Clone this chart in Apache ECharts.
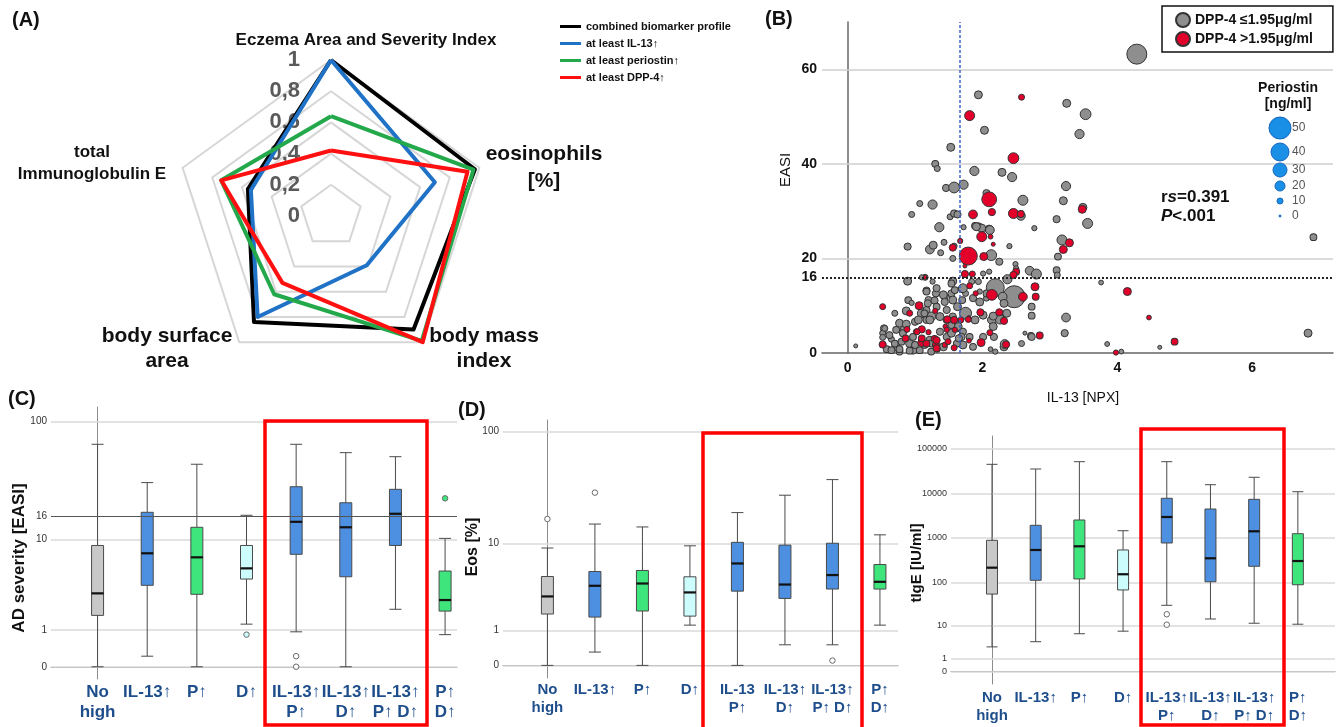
<!DOCTYPE html>
<html>
<head>
<meta charset="utf-8">
<script src="https://cdn.jsdelivr.net/npm/echarts@6/dist/echarts.min.js"></script>
<style>
  html, body { margin: 0; padding: 0; background: #fff; }
  #main { width: 1338px; height: 727px; }
</style>
</head>
<body>
<div id="main"></div>
<script>
const FONT = 'Liberation Sans, Arial, sans-serif';

// ---- (A) radar ----
const radarAxes = ['Eczema Area and Severity Index', 'total Immunoglobulin E', 'body surface area', 'body mass index', 'eosinophils [%]'];
const radarNames = ['combined biomarker profile', 'at least IL-13↑', 'at least periostin↑', 'at least DPP-4↑'];
const radarCombined = [1.0, 0.56, 0.84, 0.90, 0.97];
const radarIL13 = [1.0, 0.54, 0.80, 0.39, 0.70];
const radarPeriostin = [0.64, 0.74, 0.62, 0.99, 0.96];
const radarDPP4 = [0.42, 0.74, 0.53, 1.0, 0.92];

// ---- (B) scatter : [IL-13 NPX, EASI, periostin ng/ml] ----
const lowName = 'DPP-4 ≤1.95μg/ml';
const highName = 'DPP-4 >1.95μg/ml';
const scatterLow = [
  [4.29,63.2,45],[3.25,52.8,15],[3.53,50.5,22],[3.44,46.3,18],[3.24,35.3,18],[3.20,32.2,15],[3.49,30.8,15],
  [3.56,27.4,20],[3.18,23.9,20],[6.91,24.5,12],[3.76,14.9,7],[3.24,7.5,17],[3.22,4.2,13],[6.83,4.2,15],
  [3.85,1.9,7],[4.63,1.2,5],[4.06,0.3,7],
  [1.94,54.6,15],[2.03,47.1,15],[1.53,43.5,15],[1.30,40.0,12],[1.33,39.0,10],[1.88,38.5,18],[2.29,38.2,15],
  [2.44,37.2,18],[1.46,34.9,13],[1.58,35.0,22],[1.72,35.6,18],[2.06,33.8,13],[2.60,32.3,20],[1.07,31.6,10],
  [1.26,31.4,18],[0.95,29.3,10],[1.52,28.8,10],[1.58,29.5,12],[1.63,29.3,13],[2.57,29.0,17],[3.10,28.3,13],
  [1.36,26.6,18],[1.72,26.6,8],[1.89,26.9,12],[1.94,26.7,15],[2.10,26.2,15],[2.77,26.4,8],
  [1.99,26.4,15],[2.11,26.0,17],[2.40,22.6,8],[0.89,22.5,13],[1.22,21.9,17],[1.27,22.8,15],[1.43,23.4,10],
  [1.38,21.2,10],[1.56,20.0,10],[2.13,20.7,22],[2.25,19.3,13],[2.49,18.8,8],[2.50,17.9,8],[2.70,17.4,17],
  [2.80,16.7,20],[2.47,11.9,50],[2.19,13.8,40],[2.37,15.6,18],[1.56,15.2,15],[1.15,16.0,10],[1.10,16.0,8],
  [0.89,15.2,15],[1.26,15.1,8],[1.70,13.5,13],[1.75,12.6,10],[1.17,13.2,13],[1.31,12.6,13],[1.20,11.2,13],
  [1.29,11.1,13],[1.44,11.9,13],[1.54,12.6,13],[0.70,8.4,10],[0.87,8.9,15],[1.10,8.4,17],[1.17,9.1,12],
  [1.24,7.7,18],[1.56,7.7,13],[1.75,8.4,25],[1.89,7.0,15],[2.01,8.0,15],[2.14,7.0,17],[2.26,7.8,15],
  [2.73,7.9,12],[2.58,2.0,10],[2.72,3.6,12],[2.63,4.2,5],[2.17,3.4,13],[2.32,1.3,15],[2.12,0.8,7],
  [2.19,0.3,8],[1.81,3.4,12],[1.71,1.7,15],[1.86,1.3,12],[1.62,2.0,12],[0.12,1.5,5],[0.54,5.2,13],
  [0.65,2.9,10],[0.58,0.8,12],[0.72,1.3,15],[0.77,0.3,12],[0.84,5.0,15],[0.92,2.0,15],[0.97,0.6,15],
  [0.97,3.4,12],[1.22,2.7,15],[1.24,0.3,12],[1.42,1.3,15],[1.47,3.4,13],[1.37,4.5,13],[1.54,4.2,15],
  [1.62,5.2,13],[1.17,7.0,13],[1.00,6.6,13],[0.77,6.3,15],[0.62,3.8,12],[0.52,4.2,10],[1.19,10.5,13],
  [1.32,9.8,12],[1.47,9.1,13],[0.90,11.2,12],[1.56,11.2,15],[1.63,9.8,15],[1.86,11.6,13],[1.96,10.8,15],
  [2.06,11.6,10],[1.84,15.1,10],[2.06,12.6,12],[2.30,11.9,17],[2.32,10.5,15],[2.73,9.8,12],[3.12,20.4,12],
  [3.10,17.5,12],[3.11,16.5,10],[2.73,3.4,13],[2.33,1.9,17],[2.01,3.4,13],[2.16,5.6,15],[2.26,7.1,18],
  [2.36,8.4,15],[2.16,7.8,15],[1.64,5.6,15],[1.71,4.5,13],[1.69,3.4,13],[2.01,16.8,8],[2.10,17.2,8],
  [1.94,15.1,10],[1.96,13.0,8],[1.71,13.7,17],[1.70,11.2,12],[1.54,14.7,12],[1.59,13.3,12],[1.65,3.1,13],
  [1.58,22.6,10],[1.17,13.0,12],[1.32,13.7,13],[1.42,12.3,15],[1.44,10.8,13],[0.95,10.6,8],[0.87,6.1,15],
  [1.05,7.0,15],[1.14,8.4,12],[1.22,7.0,15],[1.37,7.7,15],[1.47,7.0,13],[1.54,5.9,12],[0.55,5.2,10],
  [0.52,3.3,10],[0.65,0.6,12],[0.77,0.8,12],[0.92,0.5,12],[1.07,0.6,12],[0.70,2.0,12],[0.80,2.4,12],
  [1.00,1.7,12],[1.14,1.7,12],[1.24,2.0,12],[0.82,4.2,12],[0.72,4.9,12],[1.91,26.7,15]
];
const scatterHigh = [
  [4.15,13.0,15],[4.47,7.5,7],[4.85,2.4,12],[3.98,0.1,8],[3.48,30.4,15],[3.29,23.3,15],[3.20,21.9,15],
  [2.58,54.1,10],[1.81,50.2,20],[2.46,41.2,22],[2.10,32.5,32],[1.86,29.3,17],[2.14,29.8,13],[2.46,29.5,20],
  [2.57,29.4,12],
  [1.99,24.6,20],[2.12,24.6,7],[2.16,23.0,5],[1.56,22.3,13],[1.67,23.7,8],[1.79,20.5,40],[2.02,20.4,15],
  [2.50,17.2,12],[2.46,16.5,13],[2.78,14.0,15],[2.79,11.9,12],[2.60,11.9,17],[2.14,12.3,22],[1.74,16.7,13],
  [1.85,16.7,10],[1.15,16.0,5],[1.81,14.2,10],[1.90,12.6,8],[1.06,10.0,15],[0.52,9.8,10],[1.30,8.9,8],
  [1.48,7.1,13],[1.45,5.6,7],[1.68,7.0,10],[1.80,7.5,5],[1.97,8.6,13],[2.25,8.6,13],[2.32,6.8,13],
  [2.85,3.7,12],[2.11,4.3,10],[1.98,2.2,15],[2.35,1.8,13],[1.80,2.6,7],[1.58,1.1,10],[1.31,1.7,12],
  [1.29,3.0,12],[1.10,5.0,13],[1.02,4.5,10],[0.86,3.1,12],[0.52,1.8,13],[1.10,2.2,15],[1.20,4.4,8],
  [1.33,0.8,10],[1.79,7.1,10],[1.74,18.4,5],[0.92,8.4,10],[0.88,5.0,10],[1.03,4.5,10],[1.10,3.1,12],
  [1.32,2.7,13],[1.32,1.0,12],[1.44,1.7,8],[1.17,2.0,12],[1.49,2.4,10],[1.58,7.0,12],[1.47,4.9,8],
  [1.59,4.9,8]
];
const easiTicks = [0, 16, 20, 40, 60];
const easiGrid = [20, 40, 60];
const il13Ticks = [0, 2, 4, 6];
const il13Cut = 1.66;
const easiCut = 16;
const periostinLegend = [50, 40, 30, 20, 10, 0];

// ---- (C)(D)(E) boxplots : [min, Q1, median, Q3, max] ----
const groupsC = ['No\nhigh', 'IL-13↑', 'P↑', 'D↑', 'IL-13↑\nP↑', 'IL-13↑\nD↑', 'IL-13↑\nP↑ D↑', 'P↑\nD↑'];
const groupsD = ['No\nhigh', 'IL-13↑', 'P↑', 'D↑', 'IL-13\nP↑', 'IL-13↑\nD↑', 'IL-13↑\nP↑ D↑', 'P↑\nD↑'];
const easiBox = [
  [0, 1.63, 2.98, 8.8, 64.8], [0.22, 3.63, 7.46, 17.3, 31], [0, 2.91, 6.84, 12.8, 44.2], [1.23, 4.21, 5.37, 8.8, 16.3],
  [0.93, 7.3, 14.3, 28.6, 64.8], [0, 4.44, 12.8, 20.9, 55.2], [1.95, 8.8, 16.8, 27.2, 51.1], [0.83, 1.85, 2.51, 5.06, 10.2]
];
const easiOut = [[3, 0.83], [4, 0.22], [4, 0], [7, 22.8]];
const eosBox = [
  [0, 1.75, 2.89, 4.76, 9.1], [0.30, 1.59, 3.80, 5.36, 15.2], [0, 1.92, 4.02, 5.49, 14.3], [1.21, 1.64, 3.21, 4.73, 9.55],
  [0, 3.32, 6.45, 10.3, 19.3], [0.50, 2.74, 3.92, 9.7, 27.6], [0.50, 3.50, 4.93, 10.1, 37.9], [1.21, 3.50, 4.19, 6.30, 12.1]
];
const eosOut = [[0, 16.9], [1, 29.1], [6, 0.10]];
const igeBox = [
  [2.6, 54, 214, 883, 44670], [3.7, 111, 535, 1915, 35080], [6.1, 119, 647, 2520, 51150], [7.1, 67, 152, 535, 1449],
  [29.8, 768, 2940, 7730, 51150], [14.2, 103, 348, 4440, 15590], [11.2, 230, 1405, 7330, 22860], [10.6, 88, 302, 1241, 10860]
];
const igeOut = [[4, 18.4], [4, 10.3]];
const easiLogTicks = [0, 1, 10, 16, 100];
const eosLogTicks = [0, 1, 10, 100];
const igeLogTicks = [0, 1, 10, 100, 1000, 10000, 100000];

const boxFill = ['#c8c8c8', '#4d8fe0', '#3ee47c', '#cdfcfc', '#4d8fe0', '#4d8fe0', '#4d8fe0', '#3ee47c'];
const tr = v => Math.log10(v + 1);   // axis is log(x+1)
const bubbleR = p => 1 + 0.2 * p;

function boxPanel(g, cats, boxes, outliers, ticks, refTick, cfg) {
  const xAxis = {
    type: 'value', gridIndex: g, min: cfg.xMin, max: cfg.xMax,
    axisLine: { show: true, lineStyle: { color: '#8c8c8c', width: 1 } },
    axisTick: { show: false }, splitLine: { show: false },
    axisLabel: {
      customValues: cats.map((c, i) => i), formatter: v => cats[Math.round(v)],
      color: '#1f4e8c', fontWeight: 'bold', fontSize: cfg.font, lineHeight: cfg.font + 3,
      margin: cfg.margin, fontFamily: FONT
    }
  };
  const yAxis = {
    type: 'value', gridIndex: g, min: cfg.yMin, max: cfg.yMax,
    axisLine: { show: true, lineStyle: { color: '#8c8c8c', width: 1 } },
    axisTick: { show: false }, splitLine: { show: false },
    axisLabel: {
      customValues: ticks.map(tr),
      formatter: v => { const t = ticks.find(k => Math.abs(tr(k) - v) < 1e-6); return t === undefined ? '' : String(t); },
      fontSize: cfg.tickFont, color: '#333', margin: 4, fontFamily: FONT
    }
  };
  const series = [
    {
      type: 'boxplot', xAxisIndex: g, yAxisIndex: g, boxWidth: [cfg.boxW, cfg.boxW], z: 2,
      data: boxes.map((b, i) => ({
        value: [i].concat(b.map(tr)),
        itemStyle: { color: boxFill[i], borderColor: '#4a4a4a', borderWidth: 1 }
      }))
    },
    {
      type: 'scatter', xAxisIndex: g, yAxisIndex: g, symbol: 'rect', symbolSize: [cfg.boxW, 2.2], z: 4,
      itemStyle: { color: '#111', opacity: 1 },
      data: boxes.map((b, i) => [i, tr(b[2])]),
      markLine: {
        silent: true, symbol: ['none', 'none'], label: { show: false }, z: 1,
        data: ticks.filter(t => t !== refTick).map(t => ({ yAxis: tr(t), lineStyle: { color: '#dadada', width: 1.5, type: 'solid' } }))
      }
    },
    {
      type: 'scatter', xAxisIndex: g, yAxisIndex: g, symbolSize: 5.5, z: 4,
      itemStyle: { borderColor: '#6b6b6b', borderWidth: 1, opacity: 1 },
      data: outliers.map(o => ({
        value: [o[0], tr(o[1])],
        itemStyle: { color: (boxFill[o[0]] === '#4d8fe0' || boxFill[o[0]] === '#c8c8c8') ? '#fff' : boxFill[o[0]] }
      })),
      markLine: refTick == null ? undefined : {
        silent: true, symbol: ['none', 'none'], label: { show: false }, z: 5,
        data: [{ yAxis: tr(refTick), lineStyle: { color: '#555', width: 1, type: 'solid' } }]
      }
    }
  ];
  return { xAxis, yAxis, series };
}

const panelC = boxPanel(1, groupsC, easiBox, easiOut, easiLogTicks, 16,
  { xMin: -0.938, xMax: 7.24, yMin: -0.1, yMax: 2.123, boxW: 12, font: 17, tickFont: 10, margin: 3 });
const panelD = boxPanel(2, groupsD, eosBox, eosOut, eosLogTicks, null,
  { xMin: -0.935, xMax: 7.38, yMin: -0.108, yMax: 2.10, boxW: 12, font: 15, tickFont: 10, margin: 3 });
const panelE = boxPanel(3, groupsC, igeBox, igeOut, igeLogTicks, null,
  { xMin: -0.938, xMax: 7.85, yMin: -0.276, yMax: 5.285, boxW: 11, font: 15, tickFont: 9, margin: 5 });

// texts that are not axis ticks
function txt(x, y, text, font, extra) {
  return Object.assign({ type: 'text', x: x, y: y, silent: true, z: 10,
    style: Object.assign({ text: text, font: font + ' ' + FONT, fill: '#111', align: 'center', verticalAlign: 'middle' }, extra || {}) });
}
function vtxt(x, y, text, font) {
  const t = txt(x, y, text, font);
  t.rotation = Math.PI / 2;
  return t;
}
function redBox(x, y, w, h) {
  return { type: 'rect', silent: true, z: 20, shape: { x, y, width: w, height: h },
    style: { fill: 'none', stroke: '#ff0000', lineWidth: 3.5 } };
}

const bubbleLegendY = [128, 152, 170, 186, 201, 216];
const graphics = [
  txt(12, 20, '(A)', 'bold 20px', { align: 'left' }),
  txt(765, 19, '(B)', 'bold 20px', { align: 'left' }),
  txt(8, 399, '(C)', 'bold 20px', { align: 'left' }),
  txt(458, 410, '(D)', 'bold 20px', { align: 'left' }),
  txt(915, 420, '(E)', 'bold 20px', { align: 'left' }),
  // radar axis names
  txt(366, 40, radarAxes[0], 'bold 17px'),
  txt(92, 163, 'total\nImmunoglobulin E', 'bold 17px', { lineHeight: 22 }),
  txt(167, 349, 'body surface\narea', 'bold 21px', { lineHeight: 25 }),
  txt(484, 349, 'body mass\nindex', 'bold 21px', { lineHeight: 25 }),
  txt(544, 168, 'eosinophils\n[%]', 'bold 21px', { lineHeight: 27 }),
  // scatter annotations
  vtxt(786, 170, 'EASI', '15px'),
  txt(1083, 398, 'IL-13 [NPX]', '14px'),
  txt(1161, 197, '{b|r}{i|s}{b|=0.391}', 'bold 17px', { align: 'left',
    rich: { b: { font: 'bold 17px ' + FONT, fill: '#111' }, i: { font: 'italic bold 17px ' + FONT, fill: '#111' } } }),
  txt(1161, 216, '{i|P}{b|<.001}', 'bold 17px', { align: 'left',
    rich: { b: { font: 'bold 17px ' + FONT, fill: '#111' }, i: { font: 'italic bold 17px ' + FONT, fill: '#111' } } }),
  txt(1288, 88, 'Periostin', 'bold 14px'),
  txt(1288, 104, '[ng/ml]', 'bold 14px'),
  // box plot axis titles
  vtxt(19, 558, 'AD severity [EASI]', 'bold 17px'),
  vtxt(473, 547, 'Eos [%]', 'bold 16px'),
  vtxt(917, 563, 'tIgE [IU/ml]', 'bold 15px'),
  redBox(265, 421, 162, 304),
  redBox(703, 433, 159, 300),
  redBox(1141, 429, 143, 296)
];
periostinLegend.forEach((p, i) => {
  graphics.push({ type: 'circle', silent: true, z: 10, shape: { cx: 1280, cy: bubbleLegendY[i], r: bubbleR(p) },
    style: { fill: '#1a8fe6', stroke: '#1565c0', lineWidth: 1 } });
  graphics.push(txt(1292, bubbleLegendY[i], String(p), '12px', { align: 'left', fill: '#555' }));
});

const option = {
  animation: false,
  backgroundColor: '#fff',
  textStyle: { fontFamily: FONT },
  legend: [
    {
      data: radarNames, orient: 'vertical', left: 555, top: 16, itemWidth: 21, itemHeight: 3, itemGap: 6,
      icon: 'rect', selectedMode: false,
      textStyle: { fontSize: 11, fontWeight: 'bold', color: '#111', fontFamily: FONT }
    },
    {
      data: [lowName, highName], orient: 'vertical', left: 1162, top: 6, icon: 'circle', selectedMode: false,
      itemWidth: 14, itemHeight: 14, itemGap: 3, padding: [6, 20, 5, 13],
      borderColor: '#111', borderWidth: 1.5,
      textStyle: { fontSize: 14, fontWeight: 'bold', color: '#111', fontFamily: FONT }
    }
  ],
  radar: {
    center: [331, 216], radius: 156, startAngle: 90, splitNumber: 5, shape: 'polygon',
    indicator: radarAxes.map(n => ({ name: n, min: 0, max: 1 })),
    axisName: { show: false },
    axisLine: { show: false }, axisTick: { show: false }, axisLabel: { show: false },
    splitLine: { lineStyle: { color: '#d6d6d6', width: 2 } },
    splitArea: { show: false }
  },
  grid: [
    { left: 822, top: 22, right: 5, bottom: 374 },
    { left: 51, top: 407, right: 881, bottom: 48 },
    { left: 503, top: 420, right: 440, bottom: 49 },
    { left: 951, top: 436, right: 3, bottom: 43 },
    { left: 304, top: 60, width: 1, height: 156 }
  ],
  xAxis: [
    {
      type: 'value', gridIndex: 0, min: -0.38, max: 7.2,
      axisLine: { show: true, lineStyle: { color: '#666', width: 1.5 } }, axisTick: { show: false }, splitLine: { show: false },
      axisLabel: { customValues: il13Ticks, fontSize: 14, fontWeight: 'bold', color: '#111', margin: 8 }
    },
    panelC.xAxis, panelD.xAxis, panelE.xAxis,
    { type: 'value', gridIndex: 4, show: false, min: 0, max: 1 }
  ],
  yAxis: [
    {
      type: 'value', gridIndex: 0, min: 0, max: 70,
      axisLine: { show: true, lineStyle: { color: '#666', width: 1.5 } }, axisTick: { show: false }, splitLine: { show: false },
      axisLabel: { customValues: easiTicks, fontSize: 14, fontWeight: 'bold', color: '#111', margin: 5 }
    },
    panelC.yAxis, panelD.yAxis, panelE.yAxis,
    {
      type: 'value', gridIndex: 4, min: 0, max: 1, interval: 0.2,
      axisLine: { show: false }, axisTick: { show: false }, splitLine: { show: false },
      axisLabel: {
        formatter: v => String(Math.round(v * 10) / 10).replace('.', ','),
        fontSize: 22, fontWeight: 'bold', color: '#5a5a5a', margin: 4
      }
    }
  ],
  series: [
    {
      type: 'radar', symbol: 'none', lineStyle: { width: 4 },
      data: [
        { name: radarNames[0], value: radarCombined, lineStyle: { color: '#000' }, itemStyle: { color: '#000' } },
        { name: radarNames[1], value: radarIL13, lineStyle: { color: '#1f72c6' }, itemStyle: { color: '#1f72c6' } },
        { name: radarNames[2], value: radarPeriostin, lineStyle: { color: '#23a94b' }, itemStyle: { color: '#23a94b' } },
        { name: radarNames[3], value: radarDPP4, lineStyle: { color: '#ff1010' }, itemStyle: { color: '#ff1010' } }
      ]
    },
    {
      name: lowName, type: 'scatter', xAxisIndex: 0, yAxisIndex: 0, z: 3,
      data: scatterLow, symbolSize: d => 2 * bubbleR(d[2]),
      itemStyle: { color: '#8e8e8e', borderColor: '#333', borderWidth: 1, opacity: 1 },
      markLine: {
        silent: true, symbol: ['none', 'none'], label: { show: false }, z: 1,
        data: easiGrid.map(v => ({ yAxis: v, lineStyle: { color: '#cfcfcf', width: 1.5, type: 'solid' } }))
      }
    },
    {
      name: highName, type: 'scatter', xAxisIndex: 0, yAxisIndex: 0, z: 3,
      data: scatterHigh, symbolSize: d => 2 * bubbleR(d[2]),
      itemStyle: { color: '#e2002b', borderColor: '#333', borderWidth: 1, opacity: 1 },
      markLine: {
        silent: true, symbol: ['none', 'none'], label: { show: false }, z: 5,
        data: [
          { yAxis: easiCut, lineStyle: { color: '#222', width: 2, type: [2, 2] } },
          { xAxis: il13Cut, lineStyle: { color: '#3c64c8', width: 1.5, type: [3, 2] } }
        ]
      }
    }
  ].concat(panelC.series, panelD.series, panelE.series),
  graphic: { elements: graphics }
};

const chart = echarts.init(document.getElementById('main'), null, { renderer: 'canvas' });
chart.setOption(option);
</script>
</body>
</html>
